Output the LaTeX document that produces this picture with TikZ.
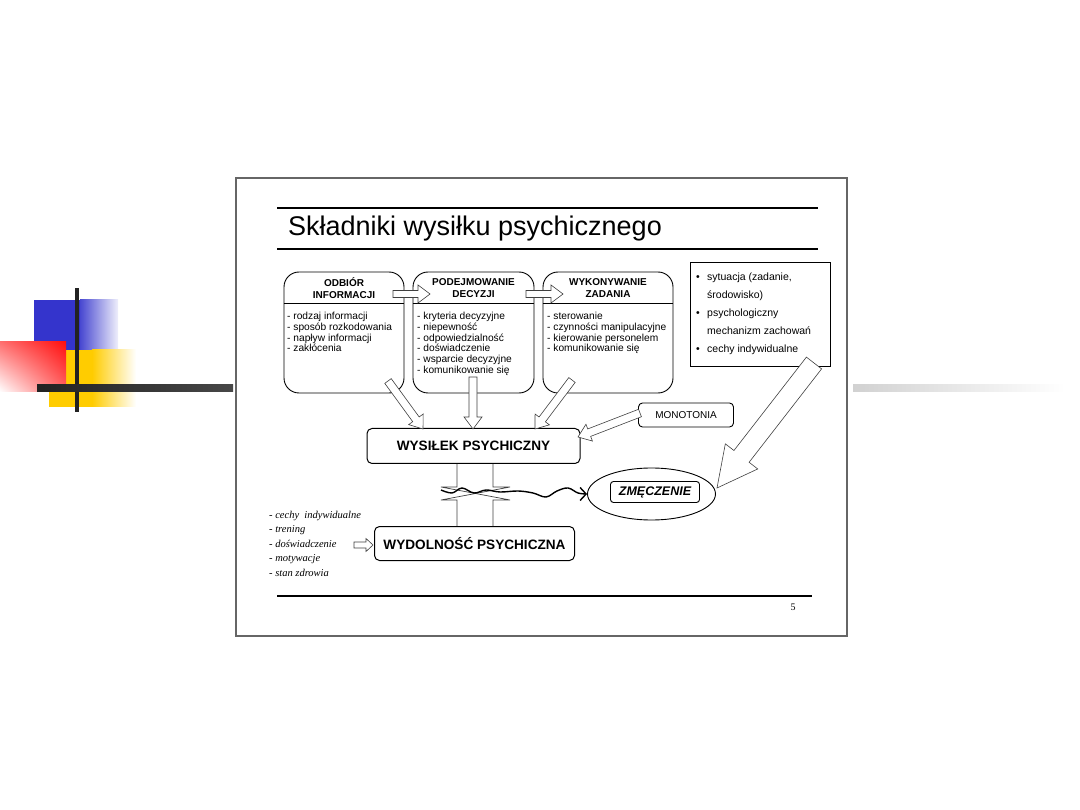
\documentclass[tikz,border=0pt]{standalone}
\usepackage{fontspec}
\setmainfont{Liberation Sans}
\newfontfamily\seriffont{Liberation Serif}
\usetikzlibrary{positioning, arrows.meta, calc, shapes.geometric, shadings}

\definecolor{decoblue}{HTML}{3434CC}
\definecolor{decored}{HTML}{FF1010}
\definecolor{decoyellow}{HTML}{FFCC00}
\definecolor{decobar}{HTML}{222222}

% 白抜きの太い矢印: 始点, 終点, 軸の半幅, 矢じりの半幅, 矢じりの長さ
\newcommand{\hollowarrow}[5]{%
    \coordinate (ha) at ($(#2)!#5!(#1)$);
    \draw [hollow] ($(#1)!#3!90:(#2)$) -- ($(ha)!#3!90:(#2)$) -- ($(ha)!#4!90:(#2)$)
        -- (#2) -- ($(ha)!#4!-90:(#2)$) -- ($(ha)!#3!-90:(#2)$) -- ($(#1)!#3!-90:(#2)$) -- cycle;
}
\newcommand{\sitbullet}{\makebox[11pt][l]{•}}

\begin{document}
\begin{tikzpicture}[
    x=1pt, y=-1pt,
    >=Stealth,
    frame/.style={draw=black!60, line width=1.2pt},
    rule/.style={line width=1.7pt},
    procbox/.style={draw, line width=0.9pt, rounded corners=15pt,
        minimum width=#1, minimum height=121pt, inner sep=0pt},
    procbox/.default=121pt,
    headtxt/.style={font=\bfseries\fontsize{10}{12}\selectfont, align=center, inner sep=0pt},
    bodytxt/.style={font=\fontsize{10.2}{10.8}\selectfont, align=left, anchor=north west, inner sep=0pt},
    mainbox/.style={draw, line width=1pt, rounded corners=5pt, minimum height=35pt,
        font=\bfseries\fontsize{13.6}{15}\selectfont},
    hollow/.style={draw=black!75, fill=white, line width=0.6pt, line join=miter},
    wave/.style={line width=1.4pt, line join=round}
]
    \useasboundingbox (0,0) rectangle (1080,810);

    % --- 1. 左側の飾り ---
    \fill [decoblue] (34,300) rectangle (80,350);
    \shade [left color=decoblue!90, right color=decoblue!8] (80,300) rectangle (118,350);
    \fill [decoyellow] (49,350) rectangle (92,407);
    \shade [left color=decoyellow, right color=white] (92,350) rectangle (136,407);
    \shade [upper left=decored!60, upper right=decored, lower left=white, lower right=decored!65]
        (0,342) rectangle (66,392);
    \fill [decobar] (75,288) rectangle (79,412);
    \shade [left color=decobar, right color=black!72] (37,385) rectangle (233,392);
    \shade [left color=black!18, right color=white] (853,385) rectangle (1065,392);

    % --- 2. スライドの枠とタイトル ---
    \draw [frame] (236,178) rectangle (847,636);
    \draw [rule] (277,208) -- (818,208);
    \node [anchor=base west, inner sep=0pt, font=\fontsize{27}{30}\selectfont] (title)
        at (288,236) {Składniki wysiłku psychicznego};
    \draw [rule] (277,249) -- (818,249);
    \draw [rule] (277,596) -- (812,596);
    \node [font=\fontsize{10}{11}\selectfont\seriffont] (pagenum) at (793,607) {5};

    % --- 3. 上段の三つの箱 ---
    \node [procbox=120pt] (odb) at (344,332.5) {};
    \node [procbox=121pt] (pod) at (473.5,332.5) {};
    \node [procbox=130pt] (wyk) at (608,332.5) {};
    \foreach \b in {odb, pod, wyk}
        \draw [line width=0.9pt] (\b.west |- 0,303) -- (\b.east |- 0,303);

    \node [headtxt] (odbH) at (344,288) {ODBIÓR\\INFORMACJI};
    \node [headtxt] (podH) at (473.5,288) {PODEJMOWANIE\\DECYZJI};
    \node [headtxt] (wykH) at (608,288) {WYKONYWANIE\\ZADANIA};

    \node [bodytxt] (odbT) at (287,312) {- rodzaj informacji\\- sposób rozkodowania\\- napływ informacji\\- zakłócenia};
    \node [bodytxt] (podT) at (417,312) {- kryteria decyzyjne\\- niepewność\\- odpowiedzialność\\- doświadczenie\\- wsparcie decyzyjne\\- komunikowanie się};
    \node [bodytxt] (wykT) at (547,312) {- sterowanie\\- czynności manipulacyjne\\- kierowanie personelem\\- komunikowanie się};

    % 箱の間の矢印
    \coordinate (a12s) at (393,294);
    \coordinate (a12e) at (430,294);
    \coordinate (a23s) at (526,294);
    \coordinate (a23e) at (563,294);
    \hollowarrow{a12s}{a12e}{3.5pt}{9pt}{12pt}
    \hollowarrow{a23s}{a23e}{3.5pt}{9pt}{12pt}

    % --- 4. 右上の要因リスト ---
    \node [draw, line width=0.9pt, minimum width=140pt, minimum height=104pt] (sit) at (760,314) {};
    \node [font=\fontsize{10.5}{18}\selectfont, align=left, anchor=north west, inner sep=0pt] (sitT)
        at (696,273) {\sitbullet sytuacja (zadanie,\\\hspace*{11pt}środowisko)\\\sitbullet psychologiczny\\\hspace*{11pt}mechanizm zachowań\\\sitbullet cechy indywidualne};

    % --- 5. 中央の箱 ---
    \node [mainbox, minimum width=213pt] (wys) at (473.5,446) {WYSIŁEK PSYCHICZNY};
    \node [draw, line width=0.9pt, rounded corners=4pt, minimum width=95pt, minimum height=24pt,
        font=\fontsize{10}{12}\selectfont] (mono) at (686,415) {MONOTONIA};
    \node [mainbox, minimum width=200pt, minimum height=34pt] (wyd) at (474.5,543.5) {WYDOLNOŚĆ PSYCHICZNA};

    % WYSIŁEK への矢印
    \coordinate (o1s) at (388,381);
    \coordinate (o1e) at (423,429);
    \coordinate (o2s) at (473,377);
    \coordinate (o2e) at (473,429);
    \coordinate (o3s) at (572,380);
    \coordinate (o3e) at (535,429);
    \coordinate (m1s) at (640,413);
    \coordinate (m1e) at (578,437);
    \hollowarrow{o1s}{o1e}{4pt}{9pt}{12pt}
    \hollowarrow{o2s}{o2e}{4pt}{9pt}{12pt}
    \hollowarrow{o3s}{o3e}{4pt}{9pt}{12pt}
    \hollowarrow{m1s}{m1e}{4pt}{9pt}{12pt}

    % --- 6. 疲労 ---
    \node [draw, ellipse, line width=0.9pt, minimum width=128pt, minimum height=52pt] (zm) at (651.5,494) {};
    \node [draw, line width=0.9pt, rounded corners=3pt, minimum width=89pt, minimum height=21pt,
        font=\bfseries\itshape\fontsize{12.5}{14}\selectfont] (zmT) at (655,492) {ZMĘCZENIE};
    \coordinate (bigs) at (814,363);
    \coordinate (bige) at (717,488);
    \hollowarrow{bigs}{bige}{9.6pt}{20.5pt}{40pt}

    % 途切れた太い連結
    \draw [line width=0.7pt, black!75] (wys.south -| 457,0) -- (457,487) -- (441,487) -- (510,500) -- (493,500) -- (wyd.north -| 493,0);
    \draw [line width=0.7pt, black!75] (wys.south -| 493,0) -- (493,487) -- (510,487) -- (441,500) -- (457,500) -- (wyd.north -| 457,0);

    % 波線
    \draw [wave, -{Straight Barb[length=6pt, width=13pt]}] plot [smooth, tension=0.6] coordinates {
        (441,490) (452,493) (462,488) (474,493) (486,490) (500,492) (518,491) (533,493)
        (546,497) (557,491) (568,488) (578,493) (zm.west)};

    % --- 7. 左下のリスト ---
    \node [font=\seriffont\itshape\fontsize{10.5}{14.5}\selectfont, align=left, anchor=north west, inner sep=0pt]
        (cap) at (269,511) {- cechy~~indywidualne\\- trening\\- doświadczenie\\- motywacje\\- stan zdrowia};
    \coordinate (cs) at (354,545);
    \coordinate (ce) at (373,545);
    \hollowarrow{cs}{ce}{3pt}{6.5pt}{7pt}

\end{tikzpicture}
\end{document}
